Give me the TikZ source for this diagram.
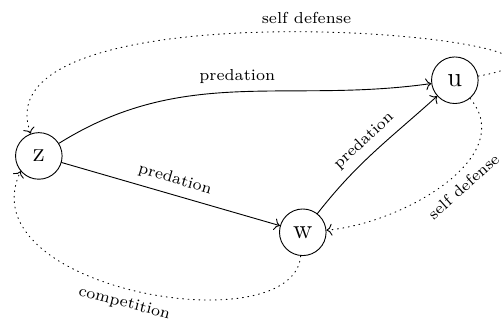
\documentclass[tikz,border=0pt]{standalone}
\usepackage{amsfonts,amsmath,amssymb}
\usepackage{tikz}
\usetikzlibrary{arrows.meta}
\tikzset{
  every picture/.style={line join=round, line cap=round, >=To},
  species/.style={draw, circle, minimum size=0.72cm, inner sep=0pt, font=\large},
  rel/.style={font=\scriptsize},
  eats/.style={->},
  guards/.style={->, dotted},
}

\begin{document}
\begin{tikzpicture}
\useasboundingbox (0,0) rectangle (7.79,4.98);
\node[species] (z) at (0.60,2.57) {z};
\node[species] (u) at (7.03,3.74) {u};
\node[species] (w) at (4.68,1.39) {w};
\draw[eats] (z) to[out=32,in=188] node[rel,above] {predation} (u);
\draw[eats] (z) -- node[rel,above,sloped] {predation} (w);
\draw[eats] (w) to[out=52,in=222] node[rel,above,sloped] {predation} (u);
\draw[guards] (u) to[out=10,in=110,out distance=3.09cm,in distance=2.63cm]
  node[rel,above] {self defense} (z);
\draw[guards] (u) to[out=-50,in=5] node[rel,below,sloped,pos=0.45] {self defense} (w);
\draw[guards] (w) to[out=-95,in=245,out distance=1.39cm,in distance=2.01cm]
  node[rel,below,sloped,pos=0.52] {competition} (z.220);
\end{tikzpicture}
\end{document}
